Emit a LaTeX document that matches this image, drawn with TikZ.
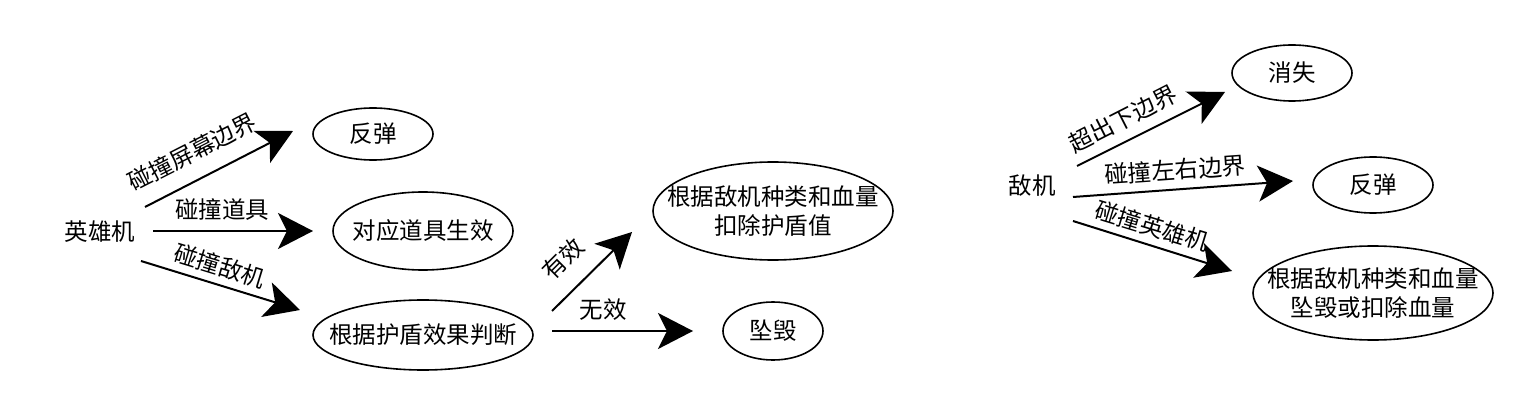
\documentclass[tikz,border=0pt]{standalone}
\usepackage{fontspec}
\setmainfont{Noto Sans CJK SC}
\usetikzlibrary{shapes.geometric,arrows.meta}
\tikzset{
  txt/.style={inner sep=0pt,font=\fontsize{23.5}{29}\selectfont,align=center},
  oval/.style={ellipse,draw,line width=1.6pt,inner sep=0pt},
  conn/.style={line width=2pt,-{Stealth[length=35pt,width=36pt,inset=9pt]}},
}
\begin{document}
\begin{tikzpicture}[x=1pt,y=-1pt]
\useasboundingbox[fill=white] (0,0) rectangle (1534,414);
% left group
\node[txt] (hero) at (100,232) {英雄机};
\node[oval,minimum width=120pt,minimum height=52pt] (bounceA) at (373,134) {};
\node[txt] (bounceAt) at (bounceA) {反弹};
\node[oval,minimum width=180pt,minimum height=78pt] (prop) at (423,231) {};
\node[txt] (propt) at (prop) {对应道具生效};
\node[oval,minimum width=220pt,minimum height=70pt] (shield) at (423,335) {};
\node[txt] (shieldt) at (shield) {根据护盾效果判断};
\node[oval,minimum width=240pt,minimum height=98pt] (deduct) at (773,211) {};
\node[txt] (deductt) at (773,211) {根据敌机种类和血量\\扣除护盾值};
\node[oval,minimum width=100pt,minimum height=58pt] (crashA) at (773,331) {};
\node[txt] (crashAt) at (crashA) {坠毁};

\coordinate (a1s) at (145,207); \coordinate (a1e) at (293,131);
\coordinate (a2s) at (153,231); \coordinate (a2e) at (313,231);
\coordinate (a3s) at (141,261); \coordinate (a3e) at (300,310);
\coordinate (a4s) at (552,311); \coordinate (a4e) at (632,232);
\coordinate (a5s) at (552,331); \coordinate (a5e) at (693,331);
\draw[conn] (a1s) -- (a1e);
\draw[conn] (a2s) -- (a2e);
\draw[conn] (a3s) -- (a3e);
\draw[conn] (a4s) -- (a4e);
\draw[conn] (a5s) -- (a5e);
\node[txt,rotate=27] (l1) at (192,152) {碰撞屏幕边界};
\node[txt] (l2) at (222,210) {碰撞道具};
\node[txt,rotate=-17] (l3) at (220,266) {碰撞敌机};
\node[txt,rotate=45] (l4) at (563,259) {有效};
\node[txt] (l5) at (603,310) {无效};

% right group
\node[txt] (enemy) at (1032,186) {敌机};
\node[oval,minimum width=120pt,minimum height=56pt] (vanish) at (1292,73) {};
\node[txt] (vanisht) at (vanish) {消失};
\node[oval,minimum width=120pt,minimum height=56pt] (bounceB) at (1373,185) {};
\node[txt] (bounceBt) at (bounceB) {反弹};
\node[oval,minimum width=240pt,minimum height=94pt] (result) at (1373,293) {};
\node[txt] (resultt) at (1373,293) {根据敌机种类和血量\\坠毁或扣除血量};

\coordinate (b1s) at (1077,166); \coordinate (b1e) at (1225,92);
\coordinate (b2s) at (1073,197); \coordinate (b2e) at (1293,181);
\coordinate (b3s) at (1073,221); \coordinate (b3e) at (1232,271);
\draw[conn] (b1s) -- (b1e);
\draw[conn] (b2s) -- (b2e);
\draw[conn] (b3s) -- (b3e);
\node[txt,rotate=27] (m1) at (1123,119) {超出下边界};
\node[txt,rotate=4] (m2) at (1175,170) {碰撞左右边界};
\node[txt,rotate=-17] (m3) at (1152,226) {碰撞英雄机};
\end{tikzpicture}
\end{document}
